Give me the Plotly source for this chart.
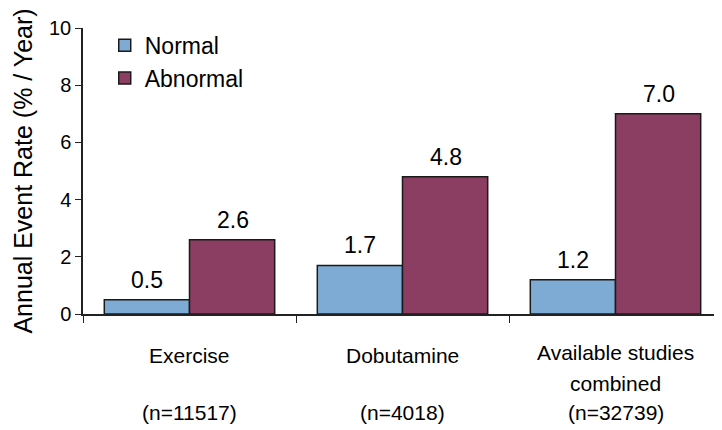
import plotly.graph_objects as go

categories = ["Exercise", "Dobutamine", "Available studies combined"]
category_lines = [["Exercise"], ["Dobutamine"], ["Available studies", "combined"]]
sample_sizes = ["(n=11517)", "(n=4018)", "(n=32739)"]
normal = [0.5, 1.7, 1.2]
abnormal = [2.6, 4.8, 7.0]
series_names = ["Normal", "Abnormal"]
y_ticks = [0, 2, 4, 6, 8, 10]

FONT = "Liberation Sans, Arial, sans-serif"
INK = "#000"
C_NORMAL = "#7dabd3"
C_ABNORMAL = "#8c3e62"

fig = go.Figure()
fig.add_trace(go.Bar(x=categories, y=normal, name=series_names[0], legendgroup="a",
                     marker=dict(color=C_NORMAL, line=dict(color="#1a1a1a", width=1.5))))
fig.add_trace(go.Bar(x=categories, y=abnormal, name=series_names[1], legendgroup="b",
                     marker=dict(color=C_ABNORMAL, line=dict(color="#1a1a1a", width=1.5))))

annotations = []
# value labels above bars
for vals, shift in ((normal, -43), (abnormal, 43)):
    for c, v in zip(categories, vals):
        annotations.append(dict(x=c, y=v, xref="x", yref="y", text=f"{v:.1f}",
                                showarrow=False, xshift=shift, yanchor="bottom", yshift=5,
                                font=dict(family=FONT, size=23, color=INK)))
# category labels under axis
for c, lines, n in zip(categories, category_lines, sample_sizes):
    if len(lines) == 1:
        annotations.append(dict(x=c, y=0, xref="x", yref="paper", text=lines[0], showarrow=False,
                                yanchor="middle", yshift=-41, font=dict(family=FONT, size=21, color=INK)))
    else:
        for i, ln in enumerate(lines):
            annotations.append(dict(x=c, y=0, xref="x", yref="paper", text=ln, showarrow=False,
                                    yanchor="middle", yshift=-38 - 31 * i,
                                    font=dict(family=FONT, size=21, color=INK)))
    annotations.append(dict(x=c, y=0, xref="x", yref="paper", text=n, showarrow=False,
                            yanchor="middle", yshift=-98, font=dict(family=FONT, size=21, color=INK)))

fig.update_layout(
    width=714, height=422,
    margin=dict(l=75, r=0, t=20, b=116),
    paper_bgcolor="white", plot_bgcolor="white",
    barmode="group", bargap=0.2, bargroupgap=0,
    font=dict(family=FONT, size=20, color=INK),
    showlegend=True,
    legend=dict(x=0.034, y=1.015, xanchor="left", yanchor="top", bgcolor="rgba(0,0,0,0)",
                font=dict(family=FONT, size=23, color=INK), tracegroupgap=9,
                traceorder="normal"),
    annotations=annotations,
    xaxis=dict(showticklabels=False, showline=True, linecolor="#222", linewidth=1.5,
               ticks="outside", tickson="boundaries", ticklen=7, tickcolor="#222",
               range=[-0.5, 2.5], showgrid=False),
    yaxis=dict(range=[0, 10], tickvals=y_ticks, showline=True, linecolor="#222", linewidth=1.5,
               ticks="outside", ticklen=6, tickcolor="#222", showgrid=False, zeroline=False,
               tickfont=dict(family=FONT, size=20, color=INK),
               title=dict(text="Annual Event Rate (% / Year)", standoff=9,
                          font=dict(family=FONT, size=25, color=INK))),
)

fig.write_html("out.html")
